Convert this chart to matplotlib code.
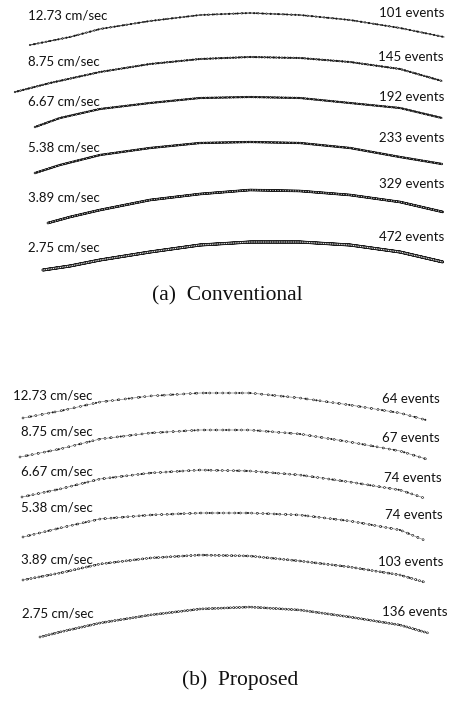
import matplotlib
matplotlib.use("Agg")
import matplotlib.pyplot as plt

plt.rcParams["lines.scale_dashes"] = False

# ---------------- data ----------------
speeds = ["12.73 cm/sec", "8.75 cm/sec", "6.67 cm/sec", "5.38 cm/sec", "3.89 cm/sec", "2.75 cm/sec"]
events_conv = [101, 145, 192, 233, 329, 472]
events_prop = [64, 67, 74, 74, 103, 136]

# arc traces (pixel column, pixel row)
conv_x = [
    [30, 70, 100, 150, 200, 250, 300, 350, 400, 444],
    [15, 50, 100, 150, 200, 250, 300, 350, 400, 442],
    [35, 60, 100, 150, 200, 250, 300, 350, 400, 442],
    [35, 60, 100, 150, 200, 250, 300, 350, 400, 442],
    [48, 70, 100, 150, 200, 250, 300, 350, 400, 443],
    [43, 70, 100, 150, 200, 250, 300, 350, 400, 443],
]
conv_y = [
    [45, 37, 29, 21, 15, 13, 15, 20, 28, 37],
    [92, 83, 72, 64, 59, 57, 58, 62, 69, 81],
    [127, 118, 109, 103, 98, 97, 98, 103, 108, 118],
    [173, 165, 155, 148, 143, 142, 143, 148, 157, 164],
    [223, 217, 210, 200, 194, 190, 191, 195, 202, 212],
    [270, 266, 260, 252, 245, 242, 242, 245, 252, 262],
]
prop_x = [
    [23, 60, 100, 150, 200, 250, 300, 350, 400, 426],
    [20, 60, 100, 150, 200, 250, 300, 350, 400, 426],
    [22, 60, 100, 150, 200, 250, 300, 350, 400, 424],
    [23, 60, 100, 150, 200, 250, 300, 350, 400, 424],
    [23, 60, 100, 150, 200, 250, 300, 350, 400, 424],
    [40, 60, 100, 150, 200, 250, 300, 350, 400, 428],
]
prop_y = [
    [418, 411, 402, 396, 393, 393, 398, 405, 413, 420],
    [457, 449, 439, 433, 430, 430, 434, 442, 451, 459],
    [497, 489, 479, 473, 470, 471, 475, 482, 490, 498],
    [537, 528, 519, 515, 513, 513, 515, 521, 530, 540],
    [580, 573, 564, 558, 555, 556, 561, 567, 575, 582],
    [637, 632, 623, 615, 609, 607, 610, 617, 625, 633],
]

# ---------------- layout ----------------
W, H = 454, 702
fig = plt.figure(figsize=(W / 100, H / 100), dpi=100)
label_font = dict(family=["Lato", "DejaVu Sans"], fontsize=9.5, color="#111111")

ax = fig.add_axes([0, 0, 1, 1])
ax.set_xlim(0, W)
ax.set_ylim(H, 0)
ax.axis("off")


def event_arc(x, y, n, ring, link_lw, link_color, hole, open_every):
    gap = 300.0 / n  # points between successive events along the arc
    dot = (0, (0.001, gap))
    ax.plot(x, y, color=link_color, lw=link_lw, solid_capstyle="round")
    ax.plot(x, y, color="#1a1a1a", lw=ring, ls=dot, dash_capstyle="round")
    ax.plot(x, y, color="#1a1a1a", lw=ring * 0.8, ls=(gap * 0.45, (0.001, gap * 1.7)),
            dash_capstyle="round")
    ax.plot(x, y, color="white", lw=ring * hole, ls=(0, (0.001, gap * open_every)),
            dash_capstyle="round")


# panel (a)
convL_x = 28
convL_y = [16, 62, 102, 148, 198, 247]
convR_x = 444
convR_y = [13, 57, 97, 138, 184, 237]
for i in range(6):
    ev = events_conv[i]
    event_arc(conv_x[i], conv_y[i], ev, ring=1.4 + ev / 550.0,
              link_lw=0.6 + ev / 500.0, link_color="#444444", hole=0.4, open_every=2)
    ax.text(convL_x, convL_y[i], speeds[i], ha="left", va="center", **label_font)
    ax.text(convR_x, convR_y[i], f"{ev} events", ha="right", va="center", **label_font)

# panel (b)
propL_x = [13, 21, 21, 21, 21, 22]
propL_y = [395, 432, 472, 507, 560, 613]
propR_x = [440, 440, 442, 443, 443, 447]
propR_y = [399, 438, 478, 515, 562, 612]
for i in range(6):
    ev = events_prop[i]
    event_arc(prop_x[i], prop_y[i], ev, ring=1.9, link_lw=0.4, link_color="#666666",
              hole=0.55, open_every=1)
    ax.text(propL_x[i], propL_y[i], speeds[i], ha="left", va="center", **label_font)
    ax.text(propR_x[i], propR_y[i], f"{ev} events", ha="right", va="center", **label_font)

cap_font = dict(family=["Liberation Serif", "DejaVu Serif"], fontsize=15.5, color="#111111")
ax.text(227, 296, "(a)  Conventional", ha="center", va="center", **cap_font)
ax.text(240, 680, "(b)  Proposed", ha="center", va="center", **cap_font)

fig.savefig("out.png", dpi=100)
